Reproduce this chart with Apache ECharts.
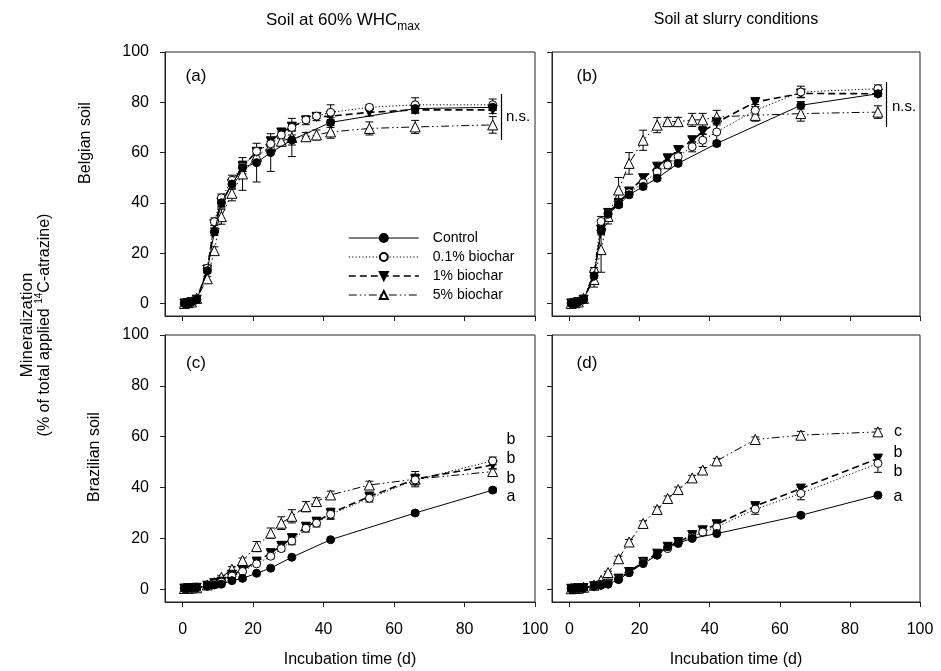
<!DOCTYPE html>
<html><head><meta charset="utf-8">
<script src="https://cdn.jsdelivr.net/npm/echarts@6.0.0/dist/echarts.min.js"></script>
<style>html,body{margin:0;padding:0;background:#fff}#c{width:941px;height:671px}</style>
</head><body><div id="c"></div>
<script>
// ---- data ----
const days = [0.5, 1.5, 2.5, 4, 7, 9, 11, 14, 17, 21, 25, 28, 31, 35, 38, 42, 53, 66, 88];
const xTicks = [0, 20, 40, 60, 80, 100];
const yTicks = [0, 20, 40, 60, 80, 100];
const seriesNames = ['Control', '0.1% biochar', '1% biochar', '5% biochar'];

// (a) Belgian soil, 60% WHCmax
const ctrlA = [0, 0.2, 0.5, 1.5, 13, 28.5, 40, 47.5, 54, 56, 60, null, 65, null, null, 72, null, 77.5, 78];
const b01A  = [0.3, 0.5, 0.8, 1.5, 14, 32.5, 42, 49, 54.5, 60.5, 63.5, 67, 70, 73, 74.5, 76, 78, 79, 79];
const b1A   = [0, 0.2, 0.5, 1.5, 13.5, 31.5, 40, 47.5, 54.5, 60.3, 64.5, 68, 70.3, 72.8, 74.2, 74.5, 76, 77, 77];
const b5A   = [0, 0.3, 0.6, 2, 9.8, 21, 34.5, 43.8, 51.5, 58.5, 62.5, 64.5, 66, 66.3, 67, 68.2, 69.6, 70.2, 71];
const eCtrlA = [0, 0, 0, 0, 1, 1.5, 2, 2, 2.5, 7.7, 7.5, 0, 2, 0, 0, 2, 0, 1.5, 1];
const e01A   = [0, 0, 0, 0, 1, 1.5, 1.5, 2, 2, 1, 1, 1.5, 1.5, 1, 1, 3, 1, 2.8, 2.3];
const e1A    = [0, 0, 0, 0, 1, 1.5, 1.5, 2, 2, 1, 1.5, 1.5, 1.5, 1.7, 1.5, 2, 1.5, 1.5, 1.5];
const e5A    = [0, 0, 0, 0, 1, 1.5, 3, 3, 6.5, 2, 2, 2, 7.6, 1.7, 2, 2.5, 2.6, 2.6, 3.3];

// (b) Belgian soil, slurry
const ctrlB = [0, 0.2, 0.5, 1.5, 11, 29, 35.5, 39.2, 43.2, 46.5, 49.8, null, 55.7, null, null, 63.6, null, 78.8, 83.4];
const b01B  = [0.3, 0.5, 0.8, 1.5, 12.8, 32.6, 35.9, 39.5, 44, 48, 52.3, 55.1, 58.4, 62.3, 64.9, 68.2, 76.8, 84.1, 85.4];
const b1B   = [0, 0.2, 0.5, 1.5, 10.8, 29.3, 36, 40, 44.5, 49.8, 54.4, 57.7, 61, 64.9, 68.2, 72, 80.1, 83.5, 83.4];
const b5B   = [0, 0.3, 0.6, 2, 9.5, 21.4, 34.6, 45.1, 55.7, 64.9, 70.9, 72.3, 72.3, 73, 73, 74.2, 74.8, 75.5, 76.1];
const eCtrlB = [0, 0, 0, 0, 1, 1, 1, 1, 1, 1, 1, 0, 1, 0, 0, 1, 0, 1.5, 1];
const e01B   = [0, 0, 0, 0, 1.5, 2, 1.5, 1, 1, 1, 1.5, 1.5, 1.5, 2, 2.5, 4, 1.5, 2.3, 1.5];
const e1B    = [0, 0, 0, 0, 2, 2, 1, 1, 1, 1, 1, 1, 1, 1, 1, 1, 1, 1.5, 1];
const e5B    = [0, 0, 0, 0, 3, 9, 3, 5, 4.3, 4, 3, 1.7, 1.7, 2.6, 2.6, 2.6, 2.3, 3, 2.5];

// (c) Brazilian soil, 60% WHCmax
const ctrlC = [0.3, 0.4, 0.5, 0.6, 1.3, 1.7, 2, 3.4, 4.3, 6.3, 8.3, null, 12.6, null, null, 19.5, null, 30, 39];
const b01C  = [0.3, 0.4, 0.5, 0.6, 1.2, 2.2, 2.8, 5.2, 7, 10, 13, 16, 19, 24, 26, 29.5, 35.8, 43, 50.5];
const b1C   = [0.3, 0.4, 0.5, 0.6, 1.4, 2.4, 3, 5.7, 7.6, 10.9, 14.2, 17.1, 20.1, 24.6, 26.6, 29.9, 36.5, 43.3, 48.9];
const b5C   = [0.3, 0.4, 0.5, 0.6, 1.7, 2.6, 4.7, 7.9, 11.3, 16.8, 22.1, 26, 28.7, 32.5, 34.5, 37.1, 41, 43.3, 46.3];
const eCtrlC = [0, 0, 0, 0, 0, 0, 0, 0, 0, 0, 0, 0, 0, 0, 0, 0, 0, 0.8, 0.8];
const e01C   = [0, 0, 0, 0, 0, 0, 0, 0, 0, 0, 1, 1, 1.5, 1.5, 1.5, 2, 1.5, 2, 1.5];
const e1C    = [0, 0, 0, 0, 0, 0, 0, 0, 0, 1, 1, 1, 1.5, 1.5, 1.5, 2, 1.5, 2, 1.5];
const e5C    = [0, 0, 0, 0, 0.5, 0.5, 0.8, 1, 1, 2, 2, 2.5, 2.6, 2, 1.5, 1.5, 1.5, 3, 1];

// (d) Brazilian soil, slurry
const ctrlD = [0.2, 0.3, 0.4, 0.5, 1.3, 1.6, 2, 3.8, 6.6, 10.1, 13.4, 16.7, 18.2, 20, null, 21.9, null, 29.1, 37];
const b01D  = [0.2, 0.3, 0.4, 0.5, 1.0, 2, 2.5, 4, 6.5, 10.5, 13.5, 16, 18, 20.5, 22.5, 24.5, 31.5, 37.7, 49.5];
const b1D   = [0.2, 0.3, 0.4, 0.5, 1.2, 1.5, 2.2, 4.2, 6.8, 10.8, 14, 16.7, 18.6, 21.3, 23.2, 25.6, 32.7, 39.6, 51.4];
const b5D   = [0.2, 0.3, 0.4, 0.8, 1.6, 3.5, 6.6, 12, 18.6, 25.9, 31.4, 35.7, 39.2, 43.8, 46.9, 50.5, 58.9, 60.6, 61.9];
const eCtrlD = [0, 0, 0, 0, 0, 0, 0, 0, 0, 0, 0, 0, 0, 0, 0, 0, 0, 0.8, 0.8];
const e01D   = [0, 0, 0, 0, 0, 0, 0, 0, 0, 0, 0, 0, 0, 1, 1, 1.5, 2, 2.5, 3.5];
const e1D    = [0, 0, 0, 0, 0, 0, 0, 0, 0, 0, 0, 0, 0, 1, 1, 1, 1, 1.5, 1];
const e5D    = [0, 0, 0, 0, 0, 0, 0.5, 1, 1, 1, 1, 1, 1, 1, 1, 1, 1, 1.5, 1.2];

// ---- layout & styles ----
const FONT = "'Liberation Sans', Arial, sans-serif";
const panels = [
  {vals: [ctrlA, b01A, b1A, b5A], errs: [eCtrlA, e01A, e1A, e5A], grid: {left: 165, top: 52, width: 370, height: 264}, xl: false, yl: true},
  {vals: [ctrlB, b01B, b1B, b5B], errs: [eCtrlB, e01B, e1B, e5B], grid: {left: 552, top: 52, width: 368, height: 264}, xl: false, yl: false},
  {vals: [ctrlC, b01C, b1C, b5C], errs: [eCtrlC, e01C, e1C, e5C], grid: {left: 165, top: 335, width: 370, height: 267}, xl: true, yl: true},
  {vals: [ctrlD, b01D, b1D, b5D], errs: [eCtrlD, e01D, e1D, e5D], grid: {left: 552, top: 335, width: 368, height: 267}, xl: true, yl: false}
];
const sty = [
  {symbol: 'circle', size: 8, rot: 0, fill: '#000', dash: 'solid', w: 1},
  {symbol: 'circle', size: 8, rot: 0, fill: '#fff', dash: [1.2, 2.2], w: 1},
  {symbol: 'triangle', size: 9, rot: 180, fill: '#000', dash: [7, 4], w: 1.6},
  {symbol: 'triangle', size: 10, rot: 0, fill: '#fff', dash: [8, 3, 1.5, 3, 1.5, 3], w: 1}
];

const grids = [], xAxes = [], yAxes = [], series = [];
panels.forEach((p, g) => {
  grids.push(Object.assign({show: true, borderColor: '#222', borderWidth: 1, backgroundColor: 'transparent', containLabel: false, outerBoundsMode: 'none'}, p.grid));
  xAxes.push({
    type: 'value', gridIndex: g, min: -5, max: 100,
    axisLine: {show: true, onZero: false, lineStyle: {color: '#222', width: 1}},
    axisTick: {show: true, inside: false, length: 5, customValues: xTicks, lineStyle: {color: '#222'}},
    axisLabel: {show: p.xl, customValues: xTicks, margin: 20, color: '#000', fontSize: 16, fontFamily: FONT},
    splitLine: {show: false},
    name: p.xl ? 'Incubation time (d)' : '', nameLocation: 'middle', nameGap: 50,
    nameTextStyle: {fontSize: 16, fontFamily: FONT, color: '#000'}
  });
  yAxes.push({
    type: 'value', gridIndex: g, min: -5, max: 100,
    axisLine: {show: true, onZero: false, lineStyle: {color: '#222', width: 1}},
    axisTick: {show: true, inside: false, length: 5, customValues: yTicks, lineStyle: {color: '#222'}},
    axisLabel: {show: p.yl, customValues: yTicks, margin: 16, color: '#000', fontSize: 16, fontFamily: FONT},
    splitLine: {show: false}
  });
  // error bars
  p.vals.forEach((vals, k) => {
    const ed = [];
    vals.forEach((v, i) => { if (v != null && p.errs[k][i] > 0) ed.push([days[i], v, p.errs[k][i]]); });
    series.push({
      type: 'custom', xAxisIndex: g, yAxisIndex: g, silent: true, z: 1, data: ed,
      renderItem: (params, api) => {
        const x = api.value(0), y = api.value(1), e = api.value(2);
        const t = api.coord([x, y + e]), b = api.coord([x, y - e]);
        const s = {stroke: '#000', lineWidth: 1};
        return {type: 'group', children: [
          {type: 'line', shape: {x1: t[0], y1: t[1], x2: b[0], y2: b[1]}, style: s},
          {type: 'line', shape: {x1: t[0] - 4, y1: t[1], x2: t[0] + 4, y2: t[1]}, style: s},
          {type: 'line', shape: {x1: b[0] - 4, y1: b[1], x2: b[0] + 4, y2: b[1]}, style: s}
        ]};
      }
    });
  });
  // lines
  p.vals.forEach((vals, k) => {
    const s = sty[k];
    const data = [];
    vals.forEach((v, i) => { if (v != null) data.push([days[i], v]); });
    series.push({
      type: 'line', name: seriesNames[k], xAxisIndex: g, yAxisIndex: g, data: data,
      symbol: s.symbol, symbolSize: s.size, symbolRotate: s.rot, showAllSymbol: true,
      z: 3 + (3 - k), animation: false,
      lineStyle: {color: '#000', width: s.w, type: s.dash},
      itemStyle: {color: s.fill, borderColor: '#000', borderWidth: 1, opacity: 1},
      emphasis: {disabled: true}
    });
  });
});

const txt = (x, y, text, size, extra) => Object.assign({
  type: 'text', x: x, y: y, silent: true,
  style: {text: text, fontSize: size, fontFamily: FONT, fill: '#000', align: 'center', verticalAlign: 'middle'}
}, extra || {});

const graphic = [
  {type: 'text', x: 343, y: 20, silent: true, style: {text: 'Soil at 60% WHC{sub|max}', fontSize: 17, fontFamily: FONT, fill: '#000', align: 'center', verticalAlign: 'middle', lineHeight: 25, rich: {sub: {fontSize: 12, fontFamily: FONT, verticalAlign: 'bottom', lineHeight: 12}}}},
  txt(736, 20, 'Soil at slurry conditions', 16),
  txt(27, 325, 'Mineralization', 17, {rotation: Math.PI / 2}),
  {type: 'text', x: 45, y: 325, rotation: Math.PI / 2, silent: true, style: {text: '(% of total applied {sup|14}C-atrazine)', fontSize: 16, fontFamily: FONT, fill: '#000', align: 'center', verticalAlign: 'middle', lineHeight: 22, rich: {sup: {fontSize: 10, fontFamily: FONT, verticalAlign: 'top', lineHeight: 10}}}},
  txt(86, 143, 'Belgian soil', 16, {rotation: Math.PI / 2}),
  txt(95, 457, 'Brazilian soil', 16, {rotation: Math.PI / 2}),
  txt(196, 76, '(a)', 17),
  txt(587, 76, '(b)', 17),
  txt(196, 363, '(c)', 17),
  txt(587, 363, '(d)', 17),
  {type: 'line', silent: true, shape: {x1: 501.5, y1: 94, x2: 501.5, y2: 140}, style: {stroke: '#000', lineWidth: 1.2}},
  txt(506, 117, 'n.s.', 15, {style: {text: 'n.s.', fontSize: 15, fontFamily: FONT, fill: '#000', align: 'left', verticalAlign: 'middle'}}),
  {type: 'line', silent: true, shape: {x1: 886.5, y1: 82, x2: 886.5, y2: 127}, style: {stroke: '#000', lineWidth: 1.2}},
  txt(892, 107, 'n.s.', 15, {style: {text: 'n.s.', fontSize: 15, fontFamily: FONT, fill: '#000', align: 'left', verticalAlign: 'middle'}}),
  txt(511, 440, 'b', 16), txt(511, 459, 'b', 16), txt(511, 479, 'b', 16), txt(511, 497, 'a', 16),
  txt(898, 432, 'c', 16), txt(898, 453, 'b', 16), txt(898, 472, 'b', 16), txt(898, 497, 'a', 16)
];

const legendData = seriesNames.map((n, k) => ({
  name: n,
  lineStyle: {width: sty[k].w, type: sty[k].dash, color: '#000'}
}));

const chart = echarts.init(document.getElementById('c'), null, {renderer: 'canvas'});
chart.setOption({
  animation: false,
  backgroundColor: '#fff',
  grid: grids, xAxis: xAxes, yAxis: yAxes, series: series,
  legend: {
    data: legendData, orient: 'vertical', left: 343, top: 226,
    itemWidth: 70, itemHeight: 10, itemGap: 5, selectedMode: false,
    lineStyle: {width: 1},
    textStyle: {fontSize: 14, fontFamily: FONT, color: '#000', padding: [0, 0, 0, 9], lineHeight: 14}
  },
  graphic: graphic
});
</script>
</body></html>
